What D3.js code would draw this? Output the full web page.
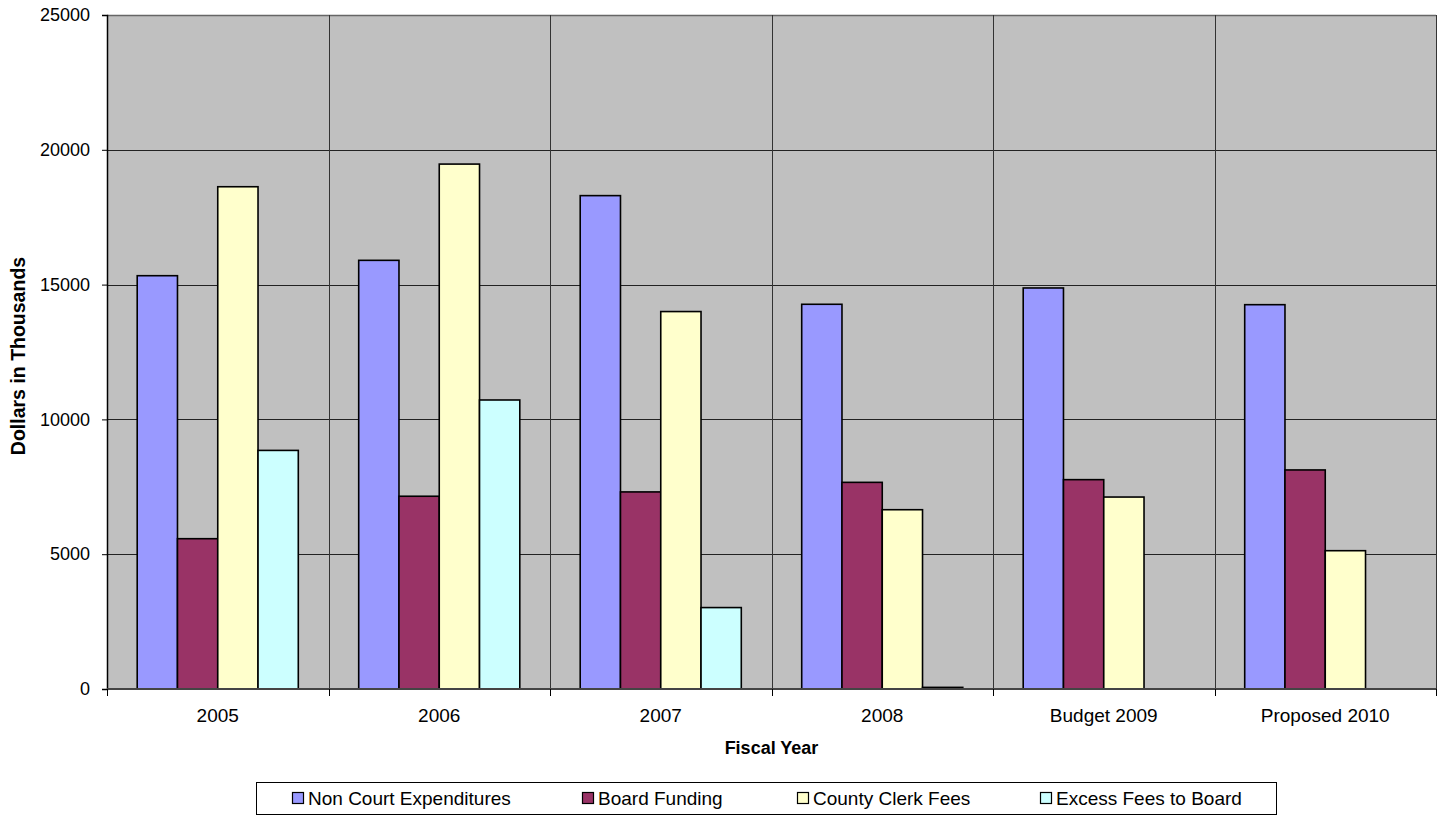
<!DOCTYPE html>
<html>
<head>
<meta charset="utf-8">
<script src="https://cdn.jsdelivr.net/npm/d3@7"></script>
<style>
  html, body { margin: 0; padding: 0; background: #ffffff; }
  svg { display: block; font-family: "Liberation Sans", Arial, sans-serif; }
</style>
</head>
<body>
<svg id="chart" width="1450" height="817"></svg>
<script>
// Fiscal years on the category axis
const categories = ["2005", "2006", "2007", "2008", "Budget 2009", "Proposed 2010"];

// Series, dollars in thousands
const seriesNames = ["Non Court Expenditures", "Board Funding", "County Clerk Fees", "Excess Fees to Board"];
const nonCourtExpenditures = [15330, 15900, 18300, 14270, 14875, 14255];
const boardFunding         = [5575, 7150, 7310, 7665, 7765, 8125];
const countyClerkFees      = [18630, 19470, 14000, 6650, 7120, 5130];
const excessFeesToBoard    = [8850, 10720, 3020, 60, 0, 0];

// Value axis ticks
const yTicks = [0, 5000, 10000, 15000, 20000, 25000];

const seriesValues = [nonCourtExpenditures, boardFunding, countyClerkFees, excessFeesToBoard];
const colors = ["#9999FF", "#993366", "#FFFFCC", "#CCFFFF"];

const svg = d3.select("#chart");
const plot = { left: 107, top: 15, right: 1436, bottom: 689 };

const x = d3.scaleBand().domain(categories).range([plot.left, plot.right]).padding(0);
const xs = d3.scaleBand().domain(d3.range(seriesNames.length))
  .range([0, x.bandwidth()]).paddingInner(0).paddingOuter(0.75);
const y = d3.scaleLinear().domain([0, 25000]).range([plot.bottom, plot.top]);

// Plot background
svg.append("rect")
  .attr("x", plot.left).attr("y", plot.top)
  .attr("width", plot.right - plot.left).attr("height", plot.bottom - plot.top)
  .attr("fill", "#C0C0C0");

// Horizontal gridlines
svg.append("g").selectAll("line")
  .data(yTicks.filter(d => d > 0))
  .join("line")
  .attr("x1", plot.left).attr("x2", plot.right)
  .attr("y1", d => Math.round(y(d)) + 0.5).attr("y2", d => Math.round(y(d)) + 0.5)
  .attr("stroke", d => d === 25000 ? "#666" : "#222")
  .attr("stroke-width", d => d === 25000 ? 1.5 : 1);

// Vertical gridlines at category boundaries
const bounds = categories.map(c => x(c)).concat([plot.right]);
svg.append("g").selectAll("line")
  .data(bounds.slice(1))
  .join("line")
  .attr("x1", d => Math.round(d) + 0.5).attr("x2", d => Math.round(d) + 0.5)
  .attr("y1", plot.top).attr("y2", plot.bottom)
  .attr("stroke", "#333").attr("stroke-width", 1);

// Bars
const barData = [];
categories.forEach((c, i) => {
  seriesValues.forEach((vals, s) => {
    if (vals[i] > 0) barData.push({ c, s, v: vals[i] });
  });
});
svg.append("g").selectAll("rect")
  .data(barData)
  .join("rect")
  .attr("x", d => x(d.c) + xs(d.s))
  .attr("y", d => y(d.v))
  .attr("width", xs.bandwidth())
  .attr("height", d => y(0) - y(d.v))
  .attr("fill", d => colors[d.s])
  .attr("stroke", "#000")
  .attr("stroke-width", 1.6);

// Y axis
const yAxis = d3.axisLeft(y).tickValues(yTicks).tickSize(5).tickPadding(12).tickFormat(d3.format("d"));
const gy = svg.append("g").attr("transform", `translate(${plot.left},0)`).call(yAxis);
gy.select(".domain").attr("stroke", "#000").attr("stroke-width", 1.5);
gy.selectAll(".tick line").attr("stroke", "#000");
gy.selectAll(".tick text").attr("font-size", 18).attr("fill", "#000")
  .attr("font-family", "Liberation Sans, Arial, sans-serif");

// X axis baseline and boundary ticks
svg.append("line")
  .attr("x1", plot.left).attr("x2", plot.right)
  .attr("y1", plot.bottom).attr("y2", plot.bottom)
  .attr("stroke", "#444").attr("stroke-width", 2);
svg.append("g").selectAll("line")
  .data(bounds)
  .join("line")
  .attr("x1", d => Math.round(d) + 0.5).attr("x2", d => Math.round(d) + 0.5)
  .attr("y1", plot.bottom).attr("y2", plot.bottom + 7)
  .attr("stroke", "#000");

// Category labels
svg.append("g").selectAll("text")
  .data(categories)
  .join("text")
  .attr("x", d => x(d) + x.bandwidth() / 2)
  .attr("y", 722)
  .attr("text-anchor", "middle")
  .attr("font-size", 19)
  .text(d => d);

// Axis titles
svg.append("text")
  .attr("x", (plot.left + plot.right) / 2).attr("y", 754)
  .attr("text-anchor", "middle").attr("font-size", 18).attr("font-weight", "bold")
  .text("Fiscal Year");
svg.append("text")
  .attr("transform", `translate(25,356) rotate(-90)`)
  .attr("text-anchor", "middle").attr("font-size", 19.5).attr("font-weight", "bold")
  .text("Dollars in Thousands");

// Legend
const legend = svg.append("g");
legend.append("rect")
  .attr("x", 256.5).attr("y", 782.5).attr("width", 1020).attr("height", 32)
  .attr("fill", "#fff").attr("stroke", "#000").attr("stroke-width", 1);
const legendX = [292, 582, 797, 1040];
const items = legend.selectAll("g.item")
  .data(seriesNames)
  .join("g").attr("class", "item")
  .attr("transform", (d, i) => `translate(${legendX[i]},0)`);
items.append("rect")
  .attr("x", 0.5).attr("y", 792.5).attr("width", 11).attr("height", 11)
  .attr("fill", (d, i) => colors[i]).attr("stroke", "#000").attr("stroke-width", 1.2);
items.append("text")
  .attr("x", 16).attr("y", 805)
  .attr("font-size", 19)
  .text(d => d);
</script>
</body>
</html>
